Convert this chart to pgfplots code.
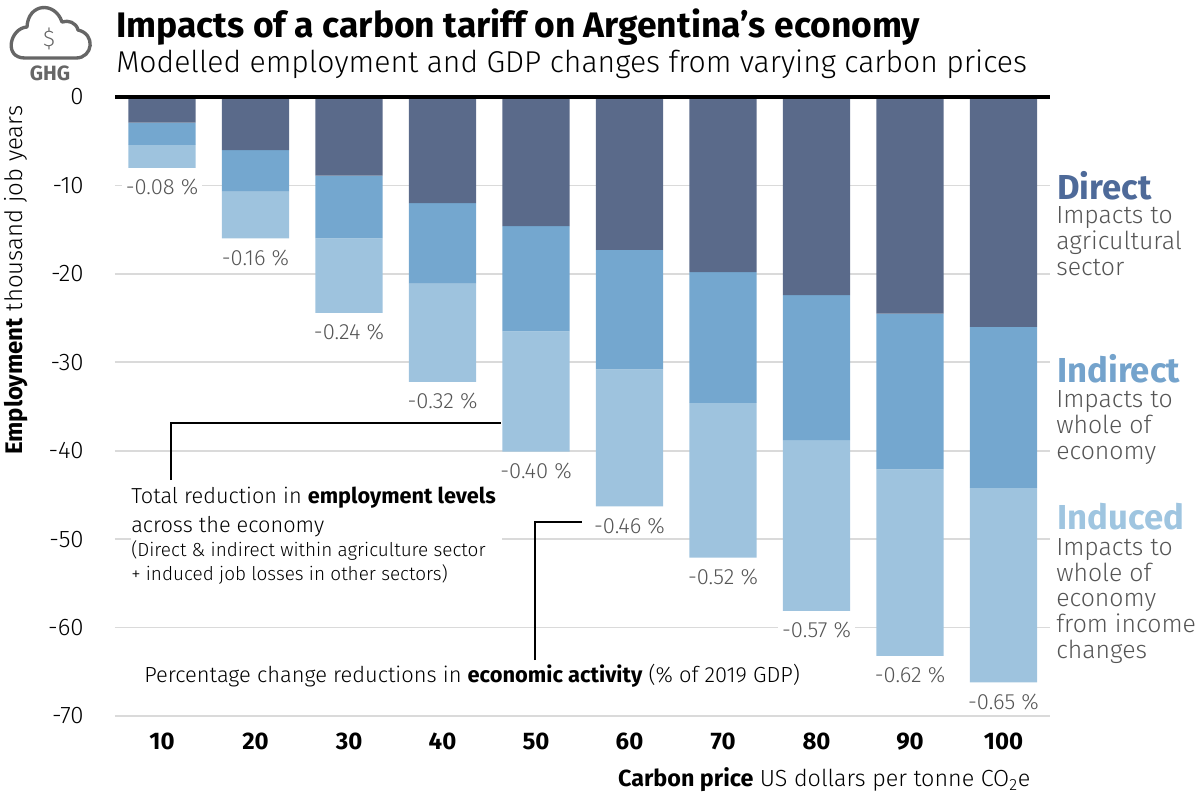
\documentclass[border=0pt]{standalone}
\usepackage{fontspec}
\setmainfont{Fira Sans Light}[BoldFont={Fira Sans Bold}]
\usepackage{pgfplots}
\usepackage{pgfplotstable}
\pgfplotsset{compat=1.18}
\definecolor{direct}{HTML}{5A6A8A}
\definecolor{indirect}{HTML}{74A7CF}
\definecolor{induced}{HTML}{9EC3DE}
\definecolor{directtxt}{HTML}{4E6A99}
\definecolor{indirecttxt}{HTML}{74A3CC}
\definecolor{inducedtxt}{HTML}{9FC5E0}
\definecolor{greytxt}{HTML}{555555}
\definecolor{gridgrey}{HTML}{DADADA}
\definecolor{icon}{HTML}{666666}
\newcommand{\fs}[1]{\fontsize{#1}{#1}\selectfont}

% x, direct, indirect, induced (increments), total, gdp label
\pgfplotstableread{
x dir ind inc total lab
0 -2.9  -2.5  -2.6  -8.0  -0.08
1 -6.0  -4.7  -5.3  -16.0 -0.16
2 -8.9  -7.1  -8.4  -24.4 -0.24
3 -12.0 -9.1  -11.1 -32.2 -0.32
4 -14.6 -11.9 -13.6 -40.1 -0.40
5 -17.3 -13.5 -15.5 -46.3 -0.46
6 -19.8 -14.8 -17.5 -52.1 -0.52
7 -22.4 -16.4 -19.3 -58.1 -0.57
8 -24.5 -17.6 -21.1 -63.2 -0.62
9 -26.0 -18.2 -22.0 -66.2 -0.65
}\carbon

\pgfplotsset{base/.style={
  scale only axis, width=701.25pt, height=464.25pt,
  at={(origin)}, anchor=south west,
  xmin=-0.503, xmax=9.497, ymin=-70, ymax=0, clip=false,
}}

\begin{document}
\begin{tikzpicture}[x=0.75pt,y=-0.75pt]
\path[use as bounding box] (0,0) rectangle (1197,794);
\coordinate (origin) at (115,716);

\begin{axis}[base,
  ybar stacked, bar width=50.5pt,
  axis line style={draw=none}, major tick length=0pt,
  ymajorgrids, grid style={gridgrey, line width=1.3pt},
  ytick={-70,-60,...,0},
  yticklabels={-70,-60,-50,-40,-30,-20,-10,0},
  xtick={0,...,9},
  xticklabels={10,20,30,40,50,60,70,80,90,100},
  yticklabel style={font=\fs{18}, xshift=-20pt},
  xticklabel style={font=\fs{18}\bfseries, yshift=-9pt},
  xlabel={\textbf{Carbon price} US dollars per tonne CO\textsubscript{2}e},
  xlabel style={at={(axis description cs:0.984,-0.103)}, anchor=east, font=\fs{17.5}},
  ylabel={\textbf{Employment} thousand job years},
  ylabel style={at={(axis description cs:-0.1059,0.704)}, anchor=center, font=\fs{18}},
]
\addplot[fill=direct, draw=none] table[x=x,y=dir] {\carbon};
\addplot[fill=indirect, draw=none] table[x=x,y=ind] {\carbon};
\addplot[fill=induced, draw=none] table[x=x,y=inc] {\carbon};
\end{axis}

% white patch behind the annotation cuts the -50 gridline
\fill[white] (131,530) rectangle (502,548);

\begin{axis}[base, hide axis]
\addplot[draw=none, mark=none,
  nodes near coords={\pgfplotspointmeta\ \%},
  point meta=explicit symbolic,
  every node near coord/.style={anchor=center, yshift=-14.6pt, fill=white,
    inner xsep=3pt, inner ysep=0pt, text=greytxt, font=\fs{16.5}},
] table[x=x,y=total,meta=lab] {\carbon};
\end{axis}

% zero line
\draw[black, line width=3.6pt] (115,97) -- (1050,97);

% title
\node[anchor=west, inner sep=0pt, font=\fs{26.6}\bfseries] at (116,27) {Impacts of a carbon tariff on Argentina’s economy};
\node[anchor=west, inner sep=0pt, font=\fs{22.6}] at (116,64) {Modelled employment and GDP changes from varying carbon prices};

% cloud icon
\draw[icon, line width=2.5pt, line join=round]
  (25,58) -- (76,58) .. controls (93,58) and (96,34) .. (78,30)
  .. controls (76,22) and (68,20) .. (62,22) .. controls (55,1) and (28,3) .. (27,27)
  .. controls (10,28) and (3,58) .. (25,58) -- cycle;
\node[text=icon, font=\fs{17}] at (49,39) {\$};
\node[text=icon, font=\fs{15.5}\bfseries] at (50,73) {GHG};

% right legend
\node[anchor=west, inner sep=0pt, text=directtxt, font=\fs{26}\bfseries] at (1057,186) {Direct};
\node[anchor=north west, inner sep=0pt, text=greytxt, font=\fs{18.6}, align=left] at (1056,206)
  {Impacts to\\[1pt]agricultural\\[1pt]sector};
\node[anchor=west, inner sep=0pt, text=indirecttxt, font=\fs{26}\bfseries] at (1057,369) {Indirect};
\node[anchor=north west, inner sep=0pt, text=greytxt, font=\fs{18.6}, align=left] at (1056,390)
  {Impacts to\\[1pt]whole of\\[1pt]economy};
\node[anchor=west, inner sep=0pt, text=inducedtxt, font=\fs{26}\bfseries] at (1057,517) {Induced};
\node[anchor=north west, inner sep=0pt, text=greytxt, font=\fs{18.6}, align=left] at (1056,538)
  {Impacts to\\[0.7pt]whole of\\[0.7pt]economy\\[0.7pt]from income\\[0.7pt]changes};

% annotations
\draw[black, line width=2.2pt] (171,480) -- (171,423) -- (501,423);
\draw[black, line width=2.2pt] (535,660) -- (535,522) -- (582,522);
\node[anchor=west, inner sep=0pt, font=\fs{16.3}] at (131,498) {Total reduction in \textbf{employment levels}};
\node[anchor=west, inner sep=0pt, font=\fs{16.3}] at (131,527) {across the economy};
\node[anchor=west, inner sep=0pt, font=\fs{14.2}] at (131,551) {(Direct \& indirect within agriculture sector};
\node[anchor=west, inner sep=0pt, font=\fs{14.2}] at (131,574) {+ induced job losses in other sectors)};
\node[anchor=west, inner sep=0pt, font=\fs{16.4}] at (144,676) {Percentage change reductions in \textbf{economic activity} (\% of 2019 GDP)};
\end{tikzpicture}
\end{document}
